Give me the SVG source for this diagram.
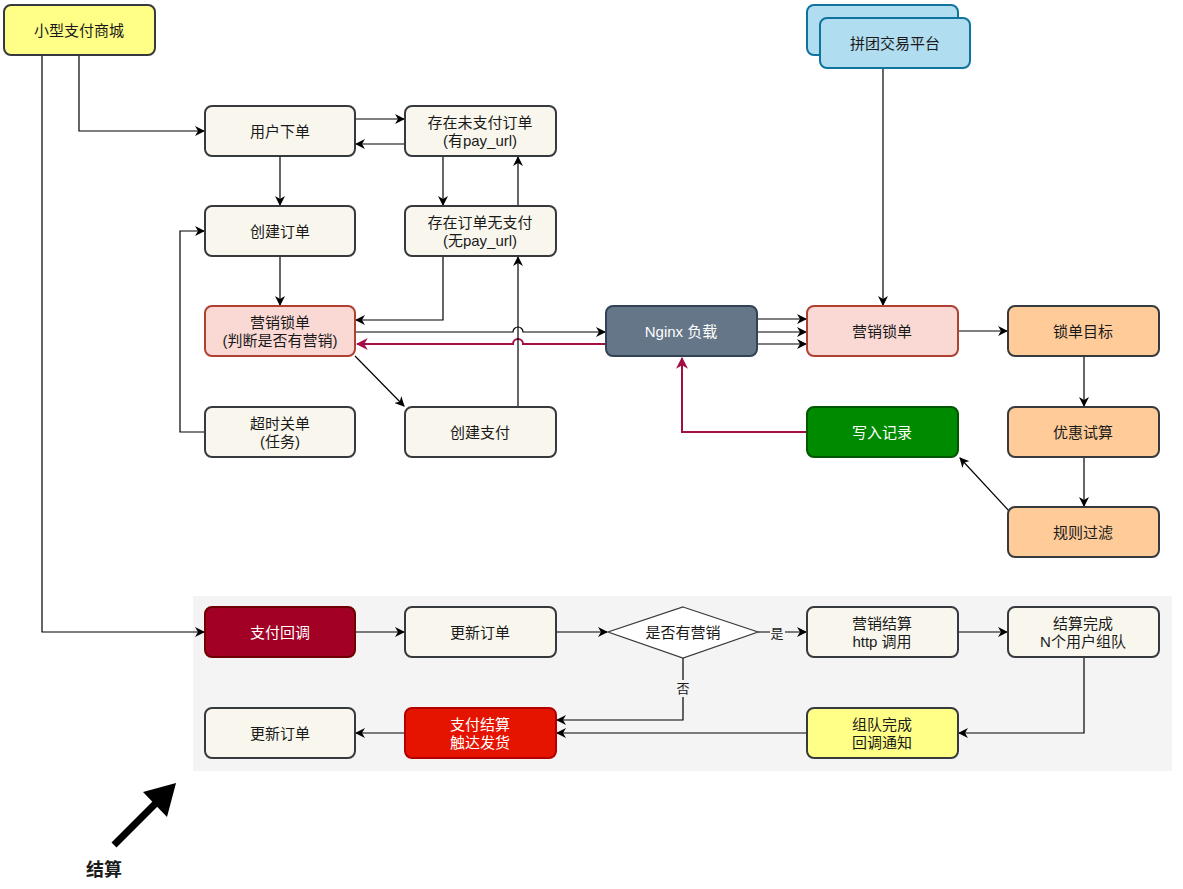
<svg xmlns="http://www.w3.org/2000/svg" width="1183" height="889" viewBox="0 0 1183 889">
<defs>
<style>
text{font-family:"Liberation Sans","Noto Sans CJK SC",sans-serif;font-size:15px;fill:#1a1a1a;text-anchor:middle;dominant-baseline:central}
.n{fill:#f9f7ed;stroke:#36393d;stroke-width:2}
.y{fill:#ffff88;stroke:#36393d;stroke-width:2}
.pk{fill:#fad9d5;stroke:#ae4132;stroke-width:2}
.or{fill:#ffcc99;stroke:#36393d;stroke-width:2}
.bl{fill:#b1ddf0;stroke:#10739e;stroke-width:2}
.w{fill:#fff}
.c{fill:none;stroke:#000;stroke-width:1.2}
.r{fill:none;stroke:#a20f46;stroke-width:2}
</style>
<marker id="a" viewBox="0 0 10 10" refX="9" refY="5" markerWidth="10" markerHeight="10" markerUnits="userSpaceOnUse" orient="auto"><path d="M0,0 L10,5 L0,10 L3,5 Z" fill="#000"/></marker>
<marker id="ar" viewBox="0 0 10 10" refX="9" refY="5" markerWidth="12" markerHeight="12" markerUnits="userSpaceOnUse" orient="auto"><path d="M0,0 L10,5 L0,10 L3,5 Z" fill="#a20f46"/></marker>
</defs>
<rect width="1183" height="889" fill="#fff"/>
<rect x="193" y="596" width="979" height="175" fill="#f4f4f4"/>

<g id="connectors">
<path class="c" d="M79,55 V131 H204" marker-end="url(#a)"/>
<path class="c" d="M355,119 H404" marker-end="url(#a)"/>
<path class="c" d="M405,144 H356" marker-end="url(#a)"/>
<path class="c" d="M280,156 V205" marker-end="url(#a)"/>
<path class="c" d="M443,156 V205" marker-end="url(#a)"/>
<path class="c" d="M518,206 V157" marker-end="url(#a)"/>
<path class="c" d="M280,256 V305" marker-end="url(#a)"/>
<path class="c" d="M443,256 V320 H356" marker-end="url(#a)"/>
<path class="c" d="M355,332 H513 A5,5 0 0 1 523,332 H605" marker-end="url(#a)"/>
<path class="r" d="M606,344 H523 A5,5 0 0 0 513,344 H357" marker-end="url(#ar)"/>
<path class="c" d="M355,356 L404,406" marker-end="url(#a)"/>
<path class="c" d="M518,407 V257" marker-end="url(#a)"/>
<path class="c" d="M205,432 H180 V231 H204" marker-end="url(#a)"/>
<path class="c" d="M757,319 H806" marker-end="url(#a)"/>
<path class="c" d="M757,332 H806" marker-end="url(#a)"/>
<path class="c" d="M757,344 H806" marker-end="url(#a)"/>
<path class="c" d="M883,68 V305" marker-end="url(#a)"/>
<path class="c" d="M958,331 H1007" marker-end="url(#a)"/>
<path class="c" d="M1084,356 V406" marker-end="url(#a)"/>
<path class="c" d="M1084,457 V506" marker-end="url(#a)"/>
<path class="c" d="M1010,512 L960,458" marker-end="url(#a)"/>
<path class="r" d="M807,432 H682 V358" marker-end="url(#ar)"/>
<path class="c" d="M42,55 V632 H204" marker-end="url(#a)"/>
<path class="c" d="M355,632 H404" marker-end="url(#a)"/>
<path class="c" d="M556,632 H607" marker-end="url(#a)"/>
<path class="c" d="M758,632 H770 M785,632 H806" marker-end="url(#a)"/>
<text x="777" y="633" style="font-size:13px">是</text>
<path class="c" d="M958,632 H1007" marker-end="url(#a)"/>
<path class="c" d="M1084,657 V733 H959" marker-end="url(#a)"/>
<path class="c" d="M807,733 H557" marker-end="url(#a)"/>
<path class="c" d="M683,658 V680 M683,697 V720 H557" marker-end="url(#a)"/>
<text x="683" y="688" style="font-size:13px">否</text>
<path class="c" d="M405,733 H356" marker-end="url(#a)"/>
</g>

<g id="n-shop"><rect class="y" x="4" y="5" width="151" height="50" rx="7"/><text x="79" y="30">小型支付商城</text></g>
<g id="n-order"><rect class="n" x="205" y="106" width="150" height="50" rx="7"/><text x="280" y="131">用户下单</text></g>
<g id="n-unpaid"><rect class="n" x="405" y="106" width="151" height="50" rx="7"/><text x="480" y="122">存在未支付订单</text><text x="480" y="140">(有pay_url)</text></g>
<g id="n-create"><rect class="n" x="205" y="206" width="150" height="50" rx="7"/><text x="280" y="231">创建订单</text></g>
<g id="n-nopay"><rect class="n" x="405" y="206" width="151" height="50" rx="7"/><text x="480" y="222">存在订单无支付</text><text x="480" y="240">(无pay_url)</text></g>
<g id="n-lock1"><rect class="pk" x="205" y="306" width="150" height="50" rx="7"/><text x="280" y="322">营销锁单</text><text x="280" y="340">(判断是否有营销)</text></g>
<g id="n-timeout"><rect class="n" x="205" y="407" width="150" height="50" rx="7"/><text x="280" y="423">超时关单</text><text x="280" y="441">(任务)</text></g>
<g id="n-pay"><rect class="n" x="405" y="407" width="151" height="50" rx="7"/><text x="480" y="432">创建支付</text></g>
<g id="n-nginx"><rect x="606" y="306" width="151" height="50" rx="7" fill="#647687" stroke="#314354" stroke-width="2"/><text class="w" x="681" y="331">Nginx 负载</text></g>
<g id="n-lock2"><rect class="pk" x="807" y="306" width="151" height="50" rx="7"/><text x="882" y="331">营销锁单</text></g>
<g id="n-target"><rect class="or" x="1008" y="306" width="151" height="50" rx="7"/><text x="1083" y="331">锁单目标</text></g>
<g id="n-calc"><rect class="or" x="1008" y="407" width="151" height="50" rx="7"/><text x="1083" y="432">优惠试算</text></g>
<g id="n-filter"><rect class="or" x="1008" y="507" width="151" height="50" rx="7"/><text x="1083" y="532">规则过滤</text></g>
<g id="n-record"><rect x="807" y="407" width="151" height="50" rx="7" fill="#008a00" stroke="#005700" stroke-width="2"/><text class="w" x="882" y="432">写入记录</text></g>
<g id="n-platform"><rect class="bl" x="807" y="5" width="151" height="50" rx="7"/><rect class="bl" x="820" y="18" width="150" height="50" rx="7"/><text x="895" y="43">拼团交易平台</text></g>

<g id="n-callback"><rect x="205" y="607" width="150" height="50" rx="7" fill="#a20025" stroke="#6f0000" stroke-width="2"/><text class="w" x="280" y="632">支付回调</text></g>
<g id="n-update1"><rect class="n" x="405" y="607" width="151" height="50" rx="7"/><text x="480" y="632">更新订单</text></g>
<g id="n-decide"><path d="M683,607 L758,632 L683,658 L608,632 Z" fill="#fff" stroke="#36393d" stroke-width="1.2"/><text x="683" y="632">是否有营销</text></g>
<g id="n-settle"><rect class="n" x="807" y="607" width="151" height="50" rx="7"/><text x="882" y="623">营销结算</text><text x="882" y="641">http 调用</text></g>
<g id="n-done"><rect class="n" x="1008" y="607" width="151" height="50" rx="7"/><text x="1083" y="623">结算完成</text><text x="1083" y="641">N个用户组队</text></g>
<g id="n-notify"><rect class="y" x="807" y="708" width="151" height="50" rx="7"/><text x="882" y="724">组队完成</text><text x="882" y="742">回调通知</text></g>
<g id="n-ship"><rect x="405" y="708" width="151" height="50" rx="7" fill="#e51400" stroke="#b20000" stroke-width="2"/><text class="w" x="480" y="724">支付结算</text><text class="w" x="480" y="742">触达发货</text></g>
<g id="n-update2"><rect class="n" x="205" y="708" width="150" height="50" rx="7"/><text x="280" y="733">更新订单</text></g>

<g id="settle-mark">
<line x1="114" y1="845" x2="160" y2="799" stroke="#000" stroke-width="7"/>
<path d="M176,783 L167,817 L143,792 Z" fill="#000"/>
<text x="104" y="870" style="font-size:18px;font-weight:bold">结算</text>
</g>
</svg>
